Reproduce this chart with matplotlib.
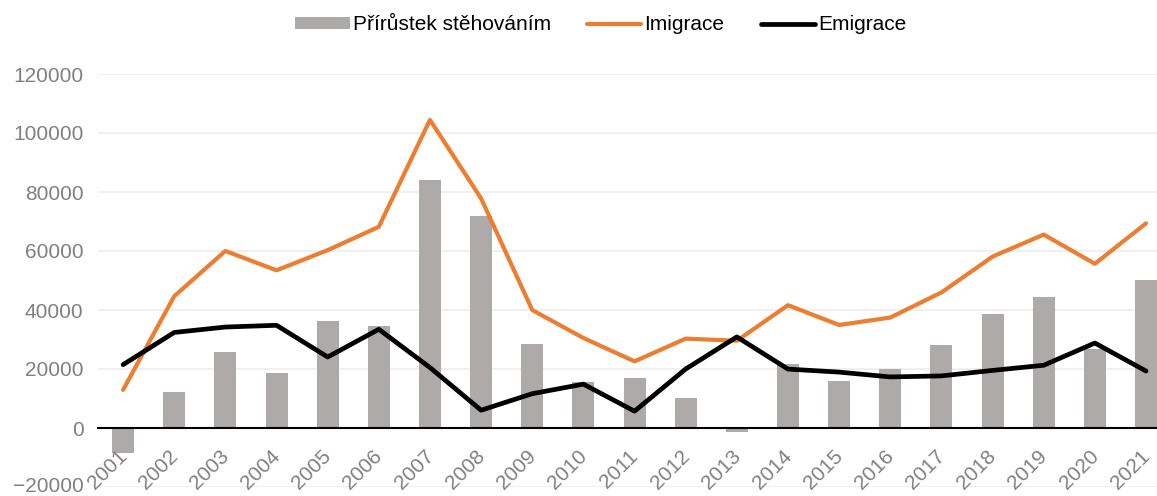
import numpy as np
import matplotlib
matplotlib.use("Agg")
import matplotlib.pyplot as plt
from matplotlib.ticker import FixedLocator
from matplotlib.transforms import ScaledTranslation

plt.rcParams['font.family'] = ['Liberation Sans', 'DejaVu Sans']

years = [str(y) for y in range(2001, 2022)]
prirustek = [-8551, 12290, 25789, 18635, 36229, 34720, 83945, 71790, 28344, 15648,
             16889, 10293, -1297, 21661, 15977, 20130, 28298, 38589, 44270, 26862, 50068]
imigrace = [12918, 44679, 60015, 53453, 60294, 68183, 104445, 77817, 39973, 30515,
            22590, 30298, 29579, 41625, 34922, 37440, 45957, 58108, 65571, 55669, 69375]
emigrace = [21469, 32389, 34226, 34818, 24065, 33463, 20500, 6027, 11629, 14867,
            5701, 20005, 30876, 19964, 18945, 17310, 17659, 19519, 21275, 28807, 19307]

fig = plt.figure(figsize=(11.57, 4.96), dpi=100)
# plot area runs a bit past the right edge of the figure
ax = fig.add_axes([97.5 / 1157, 9 / 496, (1171.6 - 97.5) / 1157, 413 / 496])

x = np.arange(len(years))
bars = ax.bar(x, prirustek, width=0.43, color='#AEAAAA', zorder=2)
l_imi, = ax.plot(x, imigrace, color='#ED7D31', lw=3.0, zorder=3,
                 solid_capstyle='round', solid_joinstyle='round')
l_emi, = ax.plot(x, emigrace, color='black', lw=3.4, zorder=4,
                 solid_capstyle='round', solid_joinstyle='round')

ax.set_xlim(-0.5, len(years) - 0.5)
ax.set_ylim(-20000, 120000)
ax.yaxis.set_major_locator(FixedLocator(range(-20000, 120001, 20000)))
ax.grid(axis='y', color='#EDEDED', lw=1.2)
ax.yaxis.set_zorder(0.5)
ax.xaxis.set_zorder(6)

for s in ['top', 'right', 'left']:
    ax.spines[s].set_visible(False)
ax.spines['bottom'].set_position(('data', 0))
ax.spines['bottom'].set_color('black')
ax.spines['bottom'].set_linewidth(1.5)
ax.spines['bottom'].set_zorder(5)

ax.set_xticks(x)
ax.set_xticklabels(years, rotation=45, ha='right', va='top', rotation_mode='anchor')
ax.tick_params(axis='x', length=0, pad=15, labelsize=15, labelcolor='#808080')
ax.tick_params(axis='y', length=0, pad=10, labelsize=15, labelcolor='#808080')
shift = ScaledTranslation(-6 / 100, 2 / 100, fig.dpi_scale_trans)
for lab in ax.get_xticklabels():
    lab.set_transform(lab.get_transform() + shift)

# lowest y label sits right at the bottom edge, lift it a touch
ylabs = ax.get_yticklabels()
ylabs[0].set_transform(ylabs[0].get_transform()
                       + ScaledTranslation(0, 2 / 100, fig.dpi_scale_trans))

fig.legend([bars, l_imi, l_emi], ['Přírůstek stěhováním', 'Imigrace', 'Emigrace'],
           loc='center', bbox_to_anchor=(601 / 1157, 1 - 25 / 496), ncol=3,
           frameon=False, fontsize=15, handlelength=2.6, handletextpad=0.15,
           columnspacing=1.75, handleheight=0.5)

fig.savefig('out.png', dpi=100)
